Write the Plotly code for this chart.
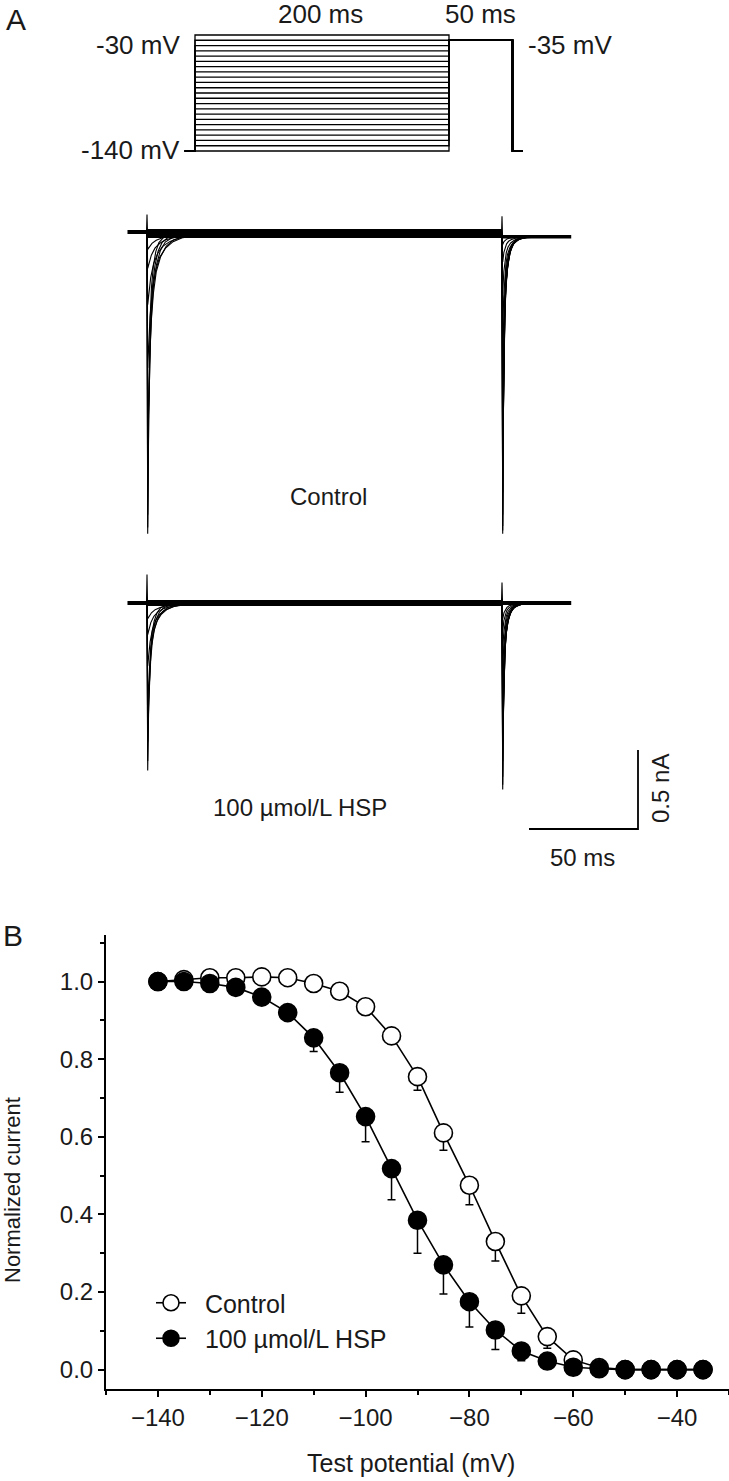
import plotly.graph_objects as go

W, H = 729, 1481


def px(x):
    return x / W


def py(y):
    return 1 - y / H


FONT = "Liberation Sans, Arial, sans-serif"

# ---------------- Panel A : voltage protocol ----------------
conditioning_mV = [-140, -135, -130, -125, -120, -115, -110, -105, -100, -95, -90, -85,
                   -80, -75, -70, -65, -60, -55, -50, -45, -40, -35, -30]
holding_mV = -140
test_mV = -35
protocol_ms = [-8, 0, 200, 250, 258]   # start, conditioning on, test on, test off, end

# ---------------- Panel A : current records (nA) ----------------
# peak inward current of the visible sweeps at the conditioning step (t = 0 ms)
ctrl_cond_peak = [-1.90, -1.86, -1.78, -1.35, -0.85, -0.45, -0.22, -0.10]
ctrl_cond_stretch = [0.7, 0.9, 1.1, 1.6, 2.2, 2.8, 3.4, 4.0]
# peak inward current at the test step (t = 200 ms)
ctrl_test_peak = [-1.88, -1.86, -1.83, -1.76, -1.62, -1.42, -1.15, -0.89, -0.62, -0.36, -0.16, -0.05]
ctrl_test_stretch = [0.55, 0.55, 0.6, 0.6, 0.65, 0.7, 0.75, 0.8, 0.9, 1.0, 1.1, 1.2]
ctrl_cap_up = [0.12, 0.13]        # capacitive spikes at the two steps
ctrl_baseline = [0.0, -0.01, -0.03]  # before step, during conditioning, during test

hsp_cond_peak = [-1.06, -1.00, -0.88, -0.65, -0.40, -0.20, -0.10]
hsp_cond_stretch = [0.8, 1.0, 1.3, 1.7, 2.2, 2.9, 3.5]
hsp_test_peak = [-1.18, -1.15, -1.10, -1.00, -0.88, -0.75, -0.60, -0.45, -0.30, -0.18, -0.10]
hsp_test_stretch = [0.6, 0.6, 0.65, 0.7, 0.75, 0.8, 0.85, 0.9, 1.0, 1.1, 1.2]
hsp_cap_up = [0.18, 0.13]
hsp_baseline = [0.0, 0.0, 0.0]

# decay profile of a transient read from the records (ms after peak, fraction of peak)
decay_ms = [0, 0.6, 1.2, 2.0, 3.0, 4.5, 6.5, 9.0, 13.0, 18.0, 25.0]
decay_frac = [1, 0.62, 0.42, 0.28, 0.18, 0.11, 0.06, 0.03, 0.012, 0.004, 0]
rise_ms = 0.4
record_ms = [-11, 0, 200, 239]

# ---------------- Panel B : steady-state inactivation ----------------
test_potential = [-140, -135, -130, -125, -120, -115, -110, -105, -100, -95, -90,
                  -85, -80, -75, -70, -65, -60, -55, -50, -45, -40, -35]
control_norm = [1.0, 1.005, 1.01, 1.01, 1.012, 1.01, 0.995, 0.975, 0.935, 0.86, 0.755,
                0.61, 0.475, 0.33, 0.19, 0.085, 0.025, 0.005, 0.0, 0.0, 0.0, 0.0]
control_err = [0, 0, 0.005, 0.005, 0.015, 0.02, 0.015, 0.02, 0.02, 0.02, 0.035,
               0.045, 0.05, 0.05, 0.045, 0.03, 0.01, 0, 0, 0, 0, 0]
hsp_norm = [1.0, 1.0, 0.995, 0.985, 0.96, 0.92, 0.855, 0.765, 0.652, 0.518, 0.385,
            0.27, 0.175, 0.102, 0.048, 0.022, 0.006, 0.002, 0.0, 0.0, 0.0, 0.0]
hsp_err = [0, 0, 0, 0.005, 0.01, 0.015, 0.035, 0.05, 0.065, 0.08, 0.085,
           0.075, 0.065, 0.05, 0.025, 0.01, 0, 0, 0, 0, 0, 0]

fig = go.Figure()

# ---- protocol traces ----
px_, py_ = [], []
for v in conditioning_mV:
    t0, t1, t2, t3, t4 = protocol_ms
    px_ += [t0, t1, t1, t2, t2, t3, t3, t4, None]
    py_ += [holding_mV, holding_mV, v, v, test_mV, test_mV, holding_mV, holding_mV, None]
fig.add_trace(go.Scatter(x=px_, y=py_, mode="lines", line=dict(color="black", width=1.3),
                         xaxis="x", yaxis="y", showlegend=False, hoverinfo="skip"))


def build_record(cond_peak, cond_stretch, test_peak, test_stretch, cap_up, base):
    xs, ys = [], []
    t_on, t_test = record_ms[1], record_ms[2]
    for peaks, stretches, t0, b in ((cond_peak, cond_stretch, t_on, base[1]),
                                    (test_peak, test_stretch, t_test, base[2])):
        for pk, st in zip(peaks, stretches):
            xs += [t0, t0 + rise_ms] + [t0 + rise_ms + d * st for d in decay_ms[1:]] + [None]
            ys += [b, b + pk] + [b + pk * f for f in decay_frac[1:]] + [None]
    # capacitive spikes
    for t0, up, b in ((t_on, cap_up[0], base[1]), (t_test, cap_up[1], base[2])):
        xs += [t0 - 0.3, t0, t0 + 0.3, None]
        ys += [b, b + up, b, None]
    return xs, ys


def add_record(axis_id, cond_peak, cond_stretch, test_peak, test_stretch, cap_up, base, band):
    xa, ya = "x" + axis_id, "y" + axis_id
    # noisy holding current drawn as a band
    fig.add_trace(go.Scatter(x=[record_ms[0], record_ms[1]], y=[base[0], base[0]], mode="lines",
                             line=dict(color="black", width=band[0]), xaxis=xa, yaxis=ya,
                             showlegend=False, hoverinfo="skip"))
    fig.add_trace(go.Scatter(x=[record_ms[1], record_ms[2]], y=[base[1], base[1]], mode="lines",
                             line=dict(color="black", width=band[1]), xaxis=xa, yaxis=ya,
                             showlegend=False, hoverinfo="skip"))
    fig.add_trace(go.Scatter(x=[record_ms[2], record_ms[3]], y=[base[2], base[2]], mode="lines",
                             line=dict(color="black", width=band[2]), xaxis=xa, yaxis=ya,
                             showlegend=False, hoverinfo="skip"))
    xs, ys = build_record(cond_peak, cond_stretch, test_peak, test_stretch, cap_up, base)
    fig.add_trace(go.Scatter(x=xs, y=ys, mode="lines", line=dict(color="black", width=1.1),
                             xaxis=xa, yaxis=ya, showlegend=False, hoverinfo="skip"))


add_record("2", ctrl_cond_peak, ctrl_cond_stretch, ctrl_test_peak, ctrl_test_stretch,
           ctrl_cap_up, ctrl_baseline, (4, 9, 3.5))
add_record("3", hsp_cond_peak, hsp_cond_stretch, hsp_test_peak, hsp_test_stretch,
           hsp_cap_up, hsp_baseline, (4, 6, 4))

# ---- Panel B ----
fig.add_trace(go.Scatter(
    x=test_potential, y=control_norm, mode="lines+markers", name="\u00a0\u00a0Control",
    line=dict(color="black", width=1.6),
    marker=dict(symbol="circle", size=18, color="white", line=dict(color="black", width=1.6)),
    error_y=dict(type="data", symmetric=False, array=[0] * len(control_err),
                 arrayminus=control_err, color="black", thickness=1.5, width=4),
    xaxis="x4", yaxis="y4", legendgroup="c"))
fig.add_trace(go.Scatter(
    x=test_potential, y=hsp_norm, mode="lines+markers", name="\u00a0\u00a0100 \u00b5mol/L HSP",
    line=dict(color="black", width=1.6),
    marker=dict(symbol="circle", size=18, color="black", line=dict(color="black", width=1.6)),
    error_y=dict(type="data", symmetric=False, array=[0] * len(hsp_err),
                 arrayminus=hsp_err, color="black", thickness=1.5, width=4),
    xaxis="x4", yaxis="y4", legendgroup="h"))

# ---- axis geometry (pixel anchors) ----
# protocol: 0 ms at x=195, 200 ms at x=449 ; -30 mV at y=35, -140 mV at y=151
p_xs = (449 - 195) / 200.0
p_ys = (151 - 35) / 110.0
prot_y_dom = (20, 170)
# records: 0 ms at x=147, 200 ms at x=502 ; 158 px per nA
r_xs = (502 - 147) / 200.0
r_ys = 158.0
ctrl_zero, ctrl_dom = 232, (180, 560)
hsp_zero, hsp_dom = 603, (560, 800)

hidden = dict(visible=False, showgrid=False, zeroline=False, fixedrange=True)
TICK = 24

layout = dict(
    width=W, height=H, autosize=False,
    margin=dict(l=0, r=0, t=0, b=0),
    paper_bgcolor="white", plot_bgcolor="white",
    font=dict(family=FONT, color="#1a1a1a", size=TICK),
    showlegend=True,
    xaxis=dict(domain=[0, 1], range=[-195 / p_xs, (W - 195) / p_xs], anchor="y", **hidden),
    yaxis=dict(domain=[py(prot_y_dom[1]), py(prot_y_dom[0])],
               range=[-140 - (prot_y_dom[1] - 151) / p_ys, -30 + (35 - prot_y_dom[0]) / p_ys],
               anchor="x", **hidden),
    xaxis2=dict(domain=[0, 1], range=[-147 / r_xs, (W - 147) / r_xs], anchor="y2", **hidden),
    yaxis2=dict(domain=[py(ctrl_dom[1]), py(ctrl_dom[0])],
                range=[-(ctrl_dom[1] - ctrl_zero) / r_ys, (ctrl_zero - ctrl_dom[0]) / r_ys],
                anchor="x2", **hidden),
    xaxis3=dict(domain=[0, 1], range=[-147 / r_xs, (W - 147) / r_xs], anchor="y3", **hidden),
    yaxis3=dict(domain=[py(hsp_dom[1]), py(hsp_dom[0])],
                range=[-(hsp_dom[1] - hsp_zero) / r_ys, (hsp_zero - hsp_dom[0]) / r_ys],
                anchor="x3", **hidden),
    xaxis4=dict(domain=[px(106), 1], range=[-150, -30], anchor="y4",
                showline=True, linecolor="black", linewidth=2, showgrid=False, zeroline=False,
                ticks="outside", ticklen=6, tickwidth=1.5, tickcolor="black",
                tickmode="array", tickvals=[-140, -120, -100, -80, -60, -40],
                minor=dict(tickmode="array", tickvals=[-150, -130, -110, -90, -70, -50, -30],
                           ticks="outside", ticklen=4, tickwidth=1.5, tickcolor="black"),
                tickfont=dict(size=TICK), fixedrange=True),
    yaxis4=dict(domain=[py(1389), py(935)], range=[-0.05, 1.12], anchor="x4",
                showline=True, linecolor="black", linewidth=2, showgrid=False, zeroline=False,
                ticks="outside", ticklen=6, tickwidth=1.5, tickcolor="black",
                tickmode="array", tickvals=[0, 0.2, 0.4, 0.6, 0.8, 1.0],
                ticktext=["0.0", "0.2", "0.4", "0.6", "0.8", "1.0"],
                minor=dict(tickmode="array", tickvals=[0.1, 0.3, 0.5, 0.7, 0.9, 1.1],
                           ticks="outside", ticklen=4, tickwidth=1.5, tickcolor="black"),
                tickfont=dict(size=TICK), fixedrange=True),
    legend=dict(x=px(151), y=py(1280), xanchor="left", yanchor="top",
                bgcolor="rgba(0,0,0,0)", font=dict(size=25), tracegroupgap=0,
                traceorder="grouped", itemclick=False, itemdoubleclick=False),
)
fig.update_layout(**layout)


def label(text, x, y, size=24, xanchor="center", angle=0):
    fig.add_annotation(text=text, x=px(x), y=py(y), xref="paper", yref="paper",
                       showarrow=False, xanchor=xanchor, yanchor="middle",
                       textangle=angle, font=dict(size=size, family=FONT, color="#1a1a1a"))


label("A", 4, 20, size=30, xanchor="left")
label("200 ms", 320, 14, size=26)
label("50 ms", 481, 14, size=26)
label("-30 mV", 182, 45, size=26, xanchor="right")
label("-140 mV", 182, 150, size=26, xanchor="right")
label("-35 mV", 526, 45, size=26, xanchor="left")
label("Control", 328, 496)
label("100 \u00b5mol/L HSP", 300, 807)
label("0.5 nA", 660, 789, angle=-90)
label("50 ms", 582, 857)
label("B", 1, 935, size=30, xanchor="left")
label("Normalized current", 12, 1190, size=22, angle=-90)
label("Test potential (mV)", 411, 1463, size=25)

# scale bar (paper coordinates)
fig.add_shape(type="path", xref="paper", yref="paper",
              path=f"M {px(529)},{py(829)} L {px(638)},{py(829)} L {px(638)},{py(750)}",
              line=dict(color="black", width=1.8))

fig.write_html("out.html", config={"displayModeBar": False},
               post_script="document.body.style.margin='0';"
               "document.body.style.overflow='hidden';")
